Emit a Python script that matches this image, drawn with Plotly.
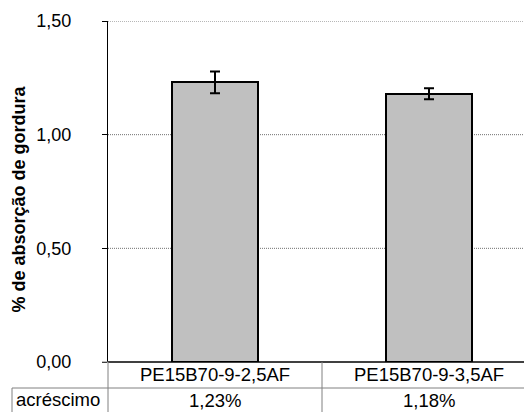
import plotly.graph_objects as go

# Data
categories = ["PE15B70-9-2,5AF", "PE15B70-9-3,5AF"]
absorption = [1.23, 1.18]
absorption_err = [0.048, 0.024]
increase_labels = ["1,23%", "1,18%"]
row_header = "acréscimo"
y_title = "% de absorção de gordura"
y_ticks = [0, 0.5, 1.0, 1.5]

FONT = "Liberation Sans, Arial, sans-serif"
W, H = 526, 412
ML, MR, MT, MB = 108, 2, 21, 50
PW, PH = W - ML - MR, H - MT - MB


def px_x(px):
    return (px - ML) / PW


def px_y(py):
    return (H - MB - py) / PH


x_pos = list(range(len(categories)))

fig = go.Figure()
fig.add_trace(go.Bar(
    x=x_pos,
    y=absorption,
    width=0.4,
    marker=dict(color="#C0C0C0", line=dict(color="black", width=2)),
    error_y=dict(type="data", array=absorption_err, visible=True,
                 color="black", thickness=2, width=5),
    showlegend=False,
))

fig.update_layout(
    width=W, height=H,
    margin=dict(l=ML, r=MR, t=MT, b=MB),
    paper_bgcolor="white", plot_bgcolor="white",
    separators=",.",
    font=dict(family=FONT, size=18, color="black"),
    bargap=0,
)

band = 214.0
fig.update_xaxes(
    range=[-0.5, -0.5 + PW / band],
    showticklabels=False, ticks="", showgrid=False, zeroline=False,
    showline=False,
)
fig.update_yaxes(
    range=[0, 1.5],
    tickvals=y_ticks,
    tickformat=".2f",
    ticks="outside", ticklen=5, tickcolor="black", tickwidth=1,
    ticklabelstandoff=27,
    showgrid=False,
    zeroline=False,
    showline=True, linecolor="black", linewidth=1,
    tickfont=dict(size=18, family=FONT),
    layer="below traces",
)

shapes = []
gray = "#808080"
# dotted horizontal gridlines, drawn under the bars
for v in y_ticks[1:]:
    shapes.append(dict(type="line", xref="paper", yref="y",
                       x0=0, x1=1, y0=v, y1=v, layer="below",
                       line=dict(color="#707070", width=1, dash="1px,1px")))
# baseline of the plot
shapes.append(dict(type="line", xref="paper", yref="paper",
                   x0=0, x1=1, y0=0, y1=0,
                   line=dict(color="black", width=1.5)))
# data table grid
shapes.append(dict(type="line", xref="paper", yref="paper",
                   x0=px_x(102), x1=0, y0=0, y1=0,
                   line=dict(color=gray, width=1)))
shapes.append(dict(type="line", xref="paper", yref="paper",
                   x0=0, x1=0, y0=0, y1=px_y(414),
                   line=dict(color=gray, width=1)))
shapes.append(dict(type="line", xref="paper", yref="paper",
                   x0=px_x(322), x1=px_x(322), y0=0, y1=px_y(414),
                   line=dict(color=gray, width=1)))
shapes.append(dict(type="line", xref="paper", yref="paper",
                   x0=px_x(12), x1=1, y0=px_y(388), y1=px_y(388),
                   line=dict(color=gray, width=1)))
shapes.append(dict(type="line", xref="paper", yref="paper",
                   x0=px_x(12), x1=px_x(12), y0=px_y(388), y1=px_y(414),
                   line=dict(color=gray, width=1)))
fig.update_layout(shapes=shapes)

annotations = []
for xi, cat, inc in zip(x_pos, categories, increase_labels):
    annotations.append(dict(x=xi, xref="x", y=px_y(374), yref="paper",
                            text=cat, showarrow=False,
                            xanchor="center", yanchor="middle",
                            font=dict(size=18.5, family=FONT)))
    annotations.append(dict(x=xi, xref="x", y=px_y(401), yref="paper",
                            text=inc, showarrow=False,
                            xanchor="center", yanchor="middle",
                            font=dict(size=18.5, family=FONT)))
annotations.append(dict(x=px_x(58), xref="paper", y=px_y(400), yref="paper",
                        text=row_header, showarrow=False,
                        xanchor="center", yanchor="middle",
                        font=dict(size=18.5, family=FONT)))
annotations.append(dict(x=px_x(18), xref="paper", y=px_y(199.5), yref="paper",
                        text="<b>" + y_title + "</b>", showarrow=False,
                        textangle=-90, xanchor="center", yanchor="middle",
                        font=dict(size=18, family=FONT)))
fig.update_layout(annotations=annotations)

fig.write_html("out.html")
